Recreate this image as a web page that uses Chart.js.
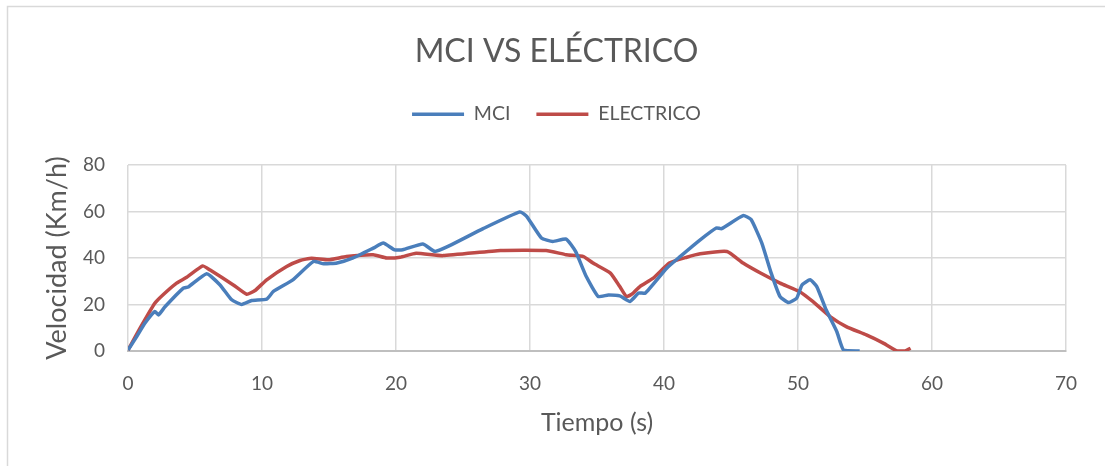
<!DOCTYPE html>
<html>
<head>
<meta charset="utf-8">
<script src="https://cdn.jsdelivr.net/npm/chart.js@4/dist/chart.umd.min.js"></script>
<style>
  html, body { margin: 0; padding: 0; background: #ffffff; }
  #wrap { position: relative; width: 1105px; height: 466px; }
</style>
</head>
<body>
<div id="wrap"><canvas id="chart" width="1105" height="466"></canvas></div>
<script>
// Speed over time for the combustion car (MCI) and the electric car
const mciTime = [0, 0.65, 1.27, 2.0, 2.27, 2.76, 4.13, 4.5, 5.87, 6.87, 7.74, 8.48, 9.23, 10.35, 10.85, 12.3, 13.83, 14.6, 15.6, 16.8, 18.3, 19.05, 19.9, 20.5, 22.0, 22.9, 24.0, 26.5, 29.25, 29.75, 30.85, 31.7, 32.7, 33.4, 34.2, 35.1, 35.85, 36.7, 37.46, 38.1, 38.6, 40.2, 41.2, 42.7, 43.9, 44.3, 45.9, 46.5, 47.3, 48.0, 48.66, 49.3, 49.9, 50.3, 50.9, 51.4, 52.1, 52.9, 53.4, 54.6];
const mciSpeed = [0.4, 6.2, 12, 17, 15.5, 19, 27, 27.5, 33.2, 28.4, 22, 20, 21.7, 22.3, 25.6, 30.6, 38.5, 37.5, 37.8, 40, 44.2, 46.4, 43.5, 43.5, 46, 42.8, 45.3, 52.6, 59.8, 57.9, 48.6, 47.1, 48.1, 42.8, 32, 23.4, 24.1, 23.7, 21.3, 24.9, 24.9, 35.6, 40.6, 47.8, 52.9, 52.6, 58.2, 56.5, 46.4, 33.5, 23.4, 20.8, 22.7, 28.4, 30.6, 27.7, 17.7, 8.3, 0.4, 0];

const elecTime = [0, 0.9, 2.0, 2.6, 3.63, 4.38, 5.57, 6.1, 7.86, 8.86, 9.48, 10.35, 11.84, 12.84, 13.7, 14.95, 16.3, 18.3, 19.3, 20.3, 21.5, 23.5, 27.8, 31.2, 32.7, 34.0, 34.7, 36.0, 36.7, 37.2, 37.7, 38.2, 39.2, 40.4, 41.7, 42.7, 44.7, 45.9, 47.2, 48.66, 50.1, 51.1, 52.4, 53.6, 55.1, 56.4, 57.4, 58.0, 58.4];
const elecSpeed = [0.4, 9.8, 20.5, 24.1, 29.2, 31.7, 36.6, 34.9, 28.4, 24.4, 26, 30.6, 36.3, 38.9, 39.9, 39.2, 40.6, 41.4, 40, 40.3, 42, 41, 43.2, 43.2, 41.4, 40.6, 37.8, 33.5, 27.7, 23.4, 24.9, 27.7, 31.3, 37.8, 40.3, 41.8, 42.8, 37.8, 33.5, 29.2, 25.6, 21.3, 14.8, 10.5, 6.9, 3.3, 0, 0, 1.2];

const seriesNames = ['MCI', 'ELECTRICO'];
const xTicks = [0, 10, 20, 30, 40, 50, 60, 70];
const yTicks = [0, 20, 40, 60, 80];

const toPoints = (xs, ys) => xs.map((x, i) => ({ x: x, y: ys[i] }));

const TEXT = '#595959';
const GRID = '#D9D9D9';
const FONT = 'Lato, "Open Sans", sans-serif';

// thin outer frame of the chart object
const framePlugin = {
  id: 'frame',
  beforeDraw(chart) {
    const ctx = chart.ctx;
    ctx.save();
    ctx.strokeStyle = GRID;
    ctx.lineWidth = 1.5;
    ctx.strokeRect(7.5, 6.5, 1300, 700);
    ctx.restore();
  }
};

// extra room between the legend row and the plot
const legendGapPlugin = {
  id: 'legendGap',
  afterInit(chart) {
    const legend = chart.legend;
    if (!legend || legend._gapPatched) return;
    const fit = legend.fit;
    legend.fit = function () {
      fit.call(this);
      this.height += 31;
    };
    legend._gapPatched = true;
  }
};

new Chart(document.getElementById('chart'), {
  type: 'line',
  data: {
    datasets: [
      {
        label: seriesNames[0],
        data: toPoints(mciTime, mciSpeed),
        borderColor: '#4A7EBB',
        backgroundColor: '#4A7EBB',
        borderWidth: 3.5,
        pointRadius: 0,
        tension: 0.15,
        fill: false
      },
      {
        label: seriesNames[1],
        data: toPoints(elecTime, elecSpeed),
        borderColor: '#BE4B48',
        backgroundColor: '#BE4B48',
        borderWidth: 3.5,
        pointRadius: 0,
        tension: 0.15,
        fill: false
      }
    ]
  },
  options: {
    responsive: false,
    animation: false,
    layout: { padding: { left: 8, right: 0, top: 0, bottom: 0 } },
    plugins: {
      title: {
        display: true,
        text: 'MCI VS ELÉCTRICO',
        color: TEXT,
        font: { family: FONT, size: 32, weight: 'normal' },
        padding: { top: 32, bottom: 8 }
      },
      legend: {
        display: true,
        position: 'top',
        labels: {
          color: TEXT,
          font: { family: FONT, size: 19.5 },
          usePointStyle: true,
          pointStyle: 'line',
          pointStyleWidth: 52,
          padding: 26
        }
      },
      tooltip: { enabled: false }
    },
    scales: {
      x: {
        type: 'linear',
        min: 0,
        max: 70,
        afterBuildTicks(scale) { scale.ticks = xTicks.map(v => ({ value: v })); },
        afterFit(scale) { scale.height = 466 - 351; },
        grid: { color: GRID, lineWidth: 1.5, drawTicks: false },
        border: { color: '#BFBFBF', width: 2 },
        ticks: { color: TEXT, font: { family: FONT, size: 19 }, padding: 21, maxRotation: 0 },
        title: {
          display: true,
          text: 'Tiempo (s)',
          color: TEXT,
          font: { family: FONT, size: 25 },
          padding: { top: 0, bottom: 28 }
        }
      },
      y: {
        min: 0,
        max: 80,
        afterBuildTicks(scale) { scale.ticks = yTicks.map(v => ({ value: v })); },
        afterFit(scale) { scale.width = 120; },
        grid: { color: GRID, lineWidth: 1.5, drawTicks: false },
        border: { display: false },
        ticks: { color: TEXT, font: { family: FONT, size: 19 }, padding: 23 },
        title: {
          display: true,
          text: 'Velocidad (Km/h)',
          color: TEXT,
          font: { family: FONT, size: 27 },
          padding: { top: 33, bottom: 0 }
        }
      },
      // empty margin on the right of the plot
      yRight: {
        position: 'right',
        display: true,
        afterFit(scale) { scale.width = 39; },
        ticks: { display: false },
        grid: { display: false },
        border: { display: false }
      }
    }
  },
  plugins: [framePlugin, legendGapPlugin]
});
</script>
</body>
</html>
